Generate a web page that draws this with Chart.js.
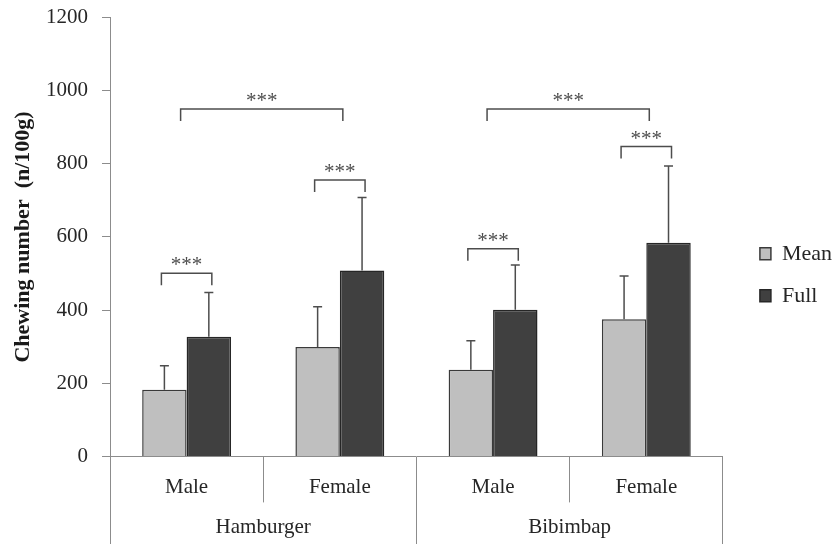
<!DOCTYPE html>
<html><head><meta charset="utf-8">
<script src="https://cdn.jsdelivr.net/npm/chart.js@4"></script>
<style>html,body{margin:0;padding:0;background:#fff}#wrap{width:833px;height:544px;position:relative}</style>
</head><body><div id="wrap"><canvas id="c"></canvas></div>
<script>
const subLabels = ['Male', 'Female', 'Male', 'Female'];
const groupLabels = ['Hamburger', 'Bibimbap'];
const seriesNames = ['Mean', 'Full'];
const meanValues = [182, 299, 237, 375];
const fullValues = [327, 508, 401, 584];
const meanSD = [66, 110, 79, 118];
const fullSD = [121, 200, 122, 210];
const pairBracketLevels = [501, 756, 568, 847];
const groupBracketLevels = [950, 950];
const sigLabel = '***';
const yTicks = [0, 200, 400, 600, 800, 1000, 1200];
const yTitle = 'Chewing number  (n/100g)';

const FONT = '"Liberation Serif", "Times New Roman", serif';
Chart.defaults.font.family = FONT;
const TXT = '#262626';
const AX = '#8c8c8c';

const annot = {
  id: 'annot',
  afterDatasetsDraw(chart) {
    const ctx = chart.ctx, y = chart.scales.y, xs = chart.scales.x;
    const m0 = chart.getDatasetMeta(0).data, m1 = chart.getDatasetMeta(1).data;
    ctx.save();
    ctx.strokeStyle = '#4d4d4d';
    ctx.lineWidth = 1.5;
    [[m0, meanValues, meanSD], [m1, fullValues, fullSD]].forEach(([els, vals, sds]) => {
      els.forEach((el, i) => {
        const x = el.x, yb = y.getPixelForValue(vals[i]), yt = y.getPixelForValue(vals[i] + sds[i]);
        ctx.beginPath();
        ctx.moveTo(x, yb); ctx.lineTo(x, yt);
        ctx.moveTo(x - 4.5, yt); ctx.lineTo(x + 4.5, yt);
        ctx.stroke();
      });
    });
    const drop = 12;
    ctx.font = '21px ' + FONT;
    ctx.fillStyle = '#4d4d4d';
    ctx.textAlign = 'center';
    ctx.textBaseline = 'alphabetic';
    function bracket(x1, x2, v) {
      const yy = y.getPixelForValue(v);
      ctx.beginPath();
      ctx.moveTo(x1, yy + drop); ctx.lineTo(x1, yy); ctx.lineTo(x2, yy); ctx.lineTo(x2, yy + drop);
      ctx.stroke();
      ctx.fillText(sigLabel, (x1 + x2) / 2, yy - 2);
    }
    pairBracketLevels.forEach((v, i) => bracket(m0[i].x - 3, m1[i].x + 3, v));
    groupBracketLevels.forEach((v, g) => bracket(xs.getPixelForValue(2 * g) - 6, xs.getPixelForValue(2 * g + 1) + 3, v));
    ctx.restore();
  }
};

new Chart(document.getElementById('c'), {
  type: 'bar',
  data: {
    labels: subLabels,
    datasets: [
      { label: seriesNames[0], data: meanValues, backgroundColor: '#bfbfbf', borderColor: '#3a3a3a', borderWidth: 1.5,
        categoryPercentage: 0.58, barPercentage: 1.0 },
      { label: seriesNames[1], data: fullValues, backgroundColor: '#404040', borderColor: '#262626', borderWidth: 1.5,
        categoryPercentage: 0.58, barPercentage: 1.0 }
    ]
  },
  options: {
    responsive: true,
    maintainAspectRatio: false,
    animation: false,
    layout: { padding: { left: 10.6, right: -9, top: 9.5, bottom: 4 } },
    plugins: {
      tooltip: { enabled: false },
      legend: {
        position: 'right',
        labels: { boxWidth: 11, boxHeight: 12, padding: 20, color: TXT, font: { size: 22, family: FONT } }
      }
    },
    scales: {
      x: {
        type: 'category', position: 'bottom', weight: 0, offset: true,
        grid: { offset: true, drawOnChartArea: false, drawTicks: true, tickLength: 46, color: AX, lineWidth: 1 },
        border: { display: true, color: AX, width: 1 },
        ticks: { padding: -27.6, color: TXT, font: { size: 21 }, maxRotation: 0, autoSkip: false },
        afterFit: s => { s.height = 43.6; }
      },
      x2: {
        type: 'category', labels: groupLabels, position: 'bottom', weight: 1, offset: true,
        grid: { offset: true, drawOnChartArea: false, drawTicks: true, tickLength: 46, color: AX, lineWidth: 1 },
        border: { display: false },
        ticks: { padding: -30.8, color: TXT, font: { size: 21 }, maxRotation: 0, autoSkip: false },
        afterFit: s => { s.height = 40; }
      },
      y: {
        min: 0, max: 1200,
        afterBuildTicks: s => { s.ticks = yTicks.map(v => ({ value: v })); },
        grid: { drawOnChartArea: false, drawTicks: true, tickLength: 8, color: AX },
        border: { display: true, color: AX, width: 1 },
        ticks: { padding: 14, color: TXT, font: { size: 21 }, callback: v => String(v) },
        title: { display: true, text: yTitle, color: '#1a1a1a', font: { size: 22, weight: 'bold' }, padding: { top: 0, bottom: 9 } },
        afterFit: s => { s.width = 99.4; s.paddingTop = 17.5; }
      },
      yR: {
        type: 'linear', position: 'right', display: true,
        grid: { drawOnChartArea: false, drawTicks: false },
        border: { display: false },
        ticks: { display: false },
        afterFit: s => { s.width = 17; }
      }
    }
  },
  plugins: [annot]
});
</script>
</body></html>
